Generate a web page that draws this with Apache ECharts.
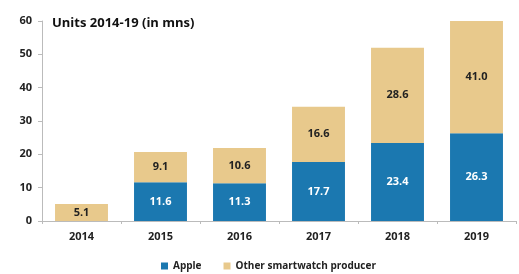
<!DOCTYPE html>
<html>
<head>
<meta charset="utf-8">
<script src="https://cdn.jsdelivr.net/npm/echarts@6/dist/echarts.min.js"></script>
<style>
html, body { margin: 0; padding: 0; background: #fff; }
#chart { width: 519px; height: 274px; }
</style>
</head>
<body>
<div id="chart"></div>
<script>
const years = ['2014', '2015', '2016', '2017', '2018', '2019']
const appleUnits = [null, 11.6, 11.3, 17.7, 23.4, 26.3]
const otherUnits = [5.1, 9.1, 10.6, 16.6, 28.6, 41.0]
const yTicks = { min: 0, max: 60, interval: 10 }

const chart = echarts.init(document.getElementById('chart'))
const font = 'Open Sans, DejaVu Sans, sans-serif'

const option = {
    animation: false,
    textStyle: { fontFamily: font },
    title: {
        text: 'Units 2014-19 (in mns)',
        left: 47,
        top: 12,
        textStyle: { fontSize: 13, fontWeight: 'bold', color: '#111' }
    },
    grid: { left: 42, right: 3, top: 21, bottom: 53 },
    legend: {
        bottom: -2,
        left: 156,
        itemWidth: 7,
        itemHeight: 7,
        itemGap: 22,
        icon: 'rect',
        textStyle: { fontSize: 10, fontWeight: 'bold', color: '#222' },
        data: ['Apple', 'Other smartwatch producer']
    },
    xAxis: {
        type: 'category',
        data: years,
        axisLine: { lineStyle: { color: '#bbb' } },
        axisTick: { show: true, length: 3, lineStyle: { color: '#bbb' } },
        axisLabel: { fontSize: 11, fontWeight: 'bold', color: '#222', margin: 10 }
    },
    yAxis: {
        type: 'value',
        min: yTicks.min,
        max: yTicks.max,
        interval: yTicks.interval,
        axisLine: { show: true, lineStyle: { color: '#bbb' } },
        axisTick: { show: true, length: 4, lineStyle: { color: '#bbb' } },
        axisLabel: { fontSize: 11, fontWeight: 'bold', color: '#222', margin: 10 },
        splitLine: { show: false }
    },
    series: [
        {
            name: 'Apple',
            type: 'bar',
            stack: 'units',
            data: appleUnits,
            barCategoryGap: '33%',
            itemStyle: { color: '#1b78b0' },
            label: {
                show: true,
                color: '#fff',
                fontSize: 11,
                fontWeight: 'bold',
                formatter: p => p.value.toFixed(1)
            }
        },
        {
            name: 'Other smartwatch producer',
            type: 'bar',
            stack: 'units',
            data: otherUnits,
            barCategoryGap: '33%',
            itemStyle: { color: '#e8c98c' },
            label: {
                show: true,
                color: '#222',
                fontSize: 11,
                fontWeight: 'bold',
                formatter: p => p.value.toFixed(1)
            }
        }
    ]
}
chart.setOption(option)
</script>
</body>
</html>
